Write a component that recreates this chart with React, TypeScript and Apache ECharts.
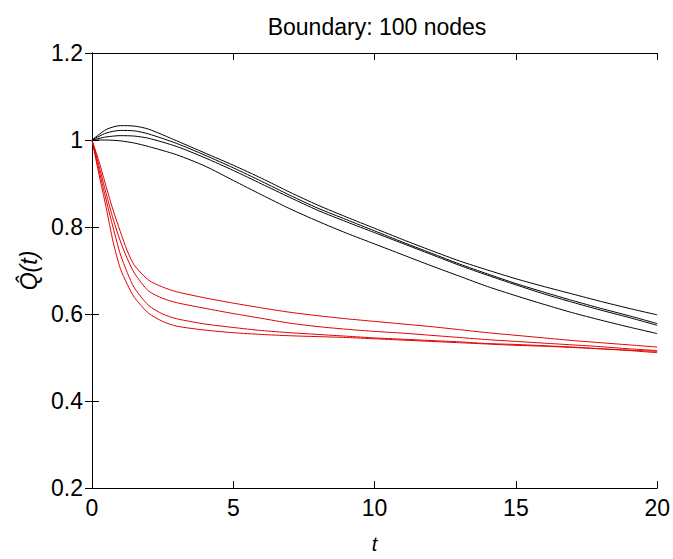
import React, { useEffect, useRef } from "react";
import * as echarts from "echarts";

const TITLE = "Boundary: 100 nodes";
const X_NAME = "t";
const Y_NAME = "Q\u0302(t)";
const X_TICKS = { min: 0, max: 20, interval: 5 };
const Y_TICKS = { min: 0.2, max: 1.2, interval: 0.2 };

const T_BLACK = [0, 0.5, 1, 1.5, 2, 3, 4, 5, 6, 7, 8, 9, 10, 11, 12, 13, 14, 15, 16, 17, 18, 19, 20];
const BLACK_A = [1.0, 1.024, 1.033, 1.032, 1.025, 0.998, 0.97, 0.942, 0.912, 0.88, 0.85, 0.823, 0.797, 0.771, 0.746, 0.722, 0.701, 0.681, 0.663, 0.646, 0.629, 0.613, 0.598];
const BLACK_B = [1.0, 1.016, 1.022, 1.021, 1.014, 0.992, 0.965, 0.936, 0.905, 0.873, 0.843, 0.817, 0.791, 0.765, 0.74, 0.715, 0.692, 0.67, 0.65, 0.631, 0.613, 0.596, 0.578];
const BLACK_C = [1.0, 1.007, 1.01, 1.009, 1.004, 0.985, 0.959, 0.93, 0.899, 0.868, 0.838, 0.812, 0.787, 0.762, 0.737, 0.712, 0.689, 0.667, 0.646, 0.627, 0.609, 0.592, 0.574];
const BLACK_D = [1.0, 1.0, 0.998, 0.993, 0.985, 0.966, 0.94, 0.907, 0.874, 0.842, 0.813, 0.786, 0.761, 0.736, 0.711, 0.687, 0.663, 0.642, 0.622, 0.603, 0.586, 0.57, 0.555];

const T_RED = [0, 0.25, 0.5, 0.75, 1, 1.25, 1.5, 2, 2.5, 3, 4, 5, 6, 7, 8, 9, 10, 11, 12, 13, 14, 15, 16, 17, 18, 19, 20];
const RED_1 = [1.0, 0.95, 0.893, 0.838, 0.79, 0.745, 0.712, 0.678, 0.662, 0.651, 0.637, 0.625, 0.614, 0.604, 0.596, 0.589, 0.583, 0.577, 0.571, 0.564, 0.557, 0.551, 0.545, 0.539, 0.534, 0.529, 0.524];
const RED_2 = [1.0, 0.94, 0.877, 0.818, 0.768, 0.727, 0.694, 0.653, 0.636, 0.626, 0.613, 0.601, 0.59, 0.579, 0.571, 0.565, 0.56, 0.556, 0.551, 0.546, 0.541, 0.537, 0.533, 0.529, 0.525, 0.52, 0.516];
const RED_3 = [1.0, 0.93, 0.862, 0.798, 0.738, 0.695, 0.66, 0.62, 0.6, 0.589, 0.577, 0.569, 0.562, 0.557, 0.553, 0.549, 0.545, 0.542, 0.539, 0.536, 0.532, 0.53, 0.527, 0.524, 0.52, 0.516, 0.511];
const RED_4 = [1.0, 0.92, 0.845, 0.765, 0.705, 0.668, 0.638, 0.602, 0.583, 0.572, 0.563, 0.557, 0.553, 0.55, 0.548, 0.546, 0.543, 0.54, 0.537, 0.534, 0.531, 0.528, 0.526, 0.523, 0.52, 0.517, 0.514];

const BLACK_SERIES = [BLACK_A, BLACK_B, BLACK_C, BLACK_D];
const RED_SERIES = [RED_1, RED_2, RED_3, RED_4];

const FONT = "'Liberation Sans', Arial, sans-serif";

export default function App() {
  const ref = useRef<HTMLDivElement>(null);
  useEffect(() => {
    document.body.style.margin = "0";
    if (!ref.current) return;
    const chart = echarts.init(ref.current, null, { renderer: "svg" });
    const mk = (ts: number[], vs: number[], color: string) => ({
      type: "line",
      data: ts.map((t, i) => [t, vs[i]]),
      showSymbol: false,
      symbol: "none",
      smooth: 0.25,
      lineStyle: { color, width: 1 },
      silent: true,
    });
    const axisCommon = {
      axisLine: { show: true, lineStyle: { color: "#000", width: 1 } },
      axisTick: { show: true, inside: true, length: 7, lineStyle: { color: "#000" } },
      splitLine: { show: false },
    };
    chart.setOption({
      animation: false,
      backgroundColor: "#fff",
      title: {
        text: TITLE,
        left: 372,
        top: 10,
        textAlign: "center",
        textStyle: { fontFamily: FONT, fontSize: 23, fontWeight: "normal", color: "#000" },
      },
      grid: { left: 92, right: 11, top: 53, bottom: 59, show: false },
      xAxis: [
        {
          type: "value",
          ...X_TICKS,
          position: "bottom",
          ...axisCommon,
          axisLabel: { show: true, margin: 8, fontFamily: FONT, fontSize: 23, color: "#000" },
          name: X_NAME,
          nameLocation: "middle",
          nameGap: 46,
          nameTextStyle: { fontFamily: FONT, fontSize: 20, fontStyle: "italic", color: "#000" },
        },
        {
          type: "value",
          ...X_TICKS,
          position: "top",
          ...axisCommon,
          axisLabel: { show: false },
        },
      ],
      yAxis: [
        {
          type: "value",
          ...Y_TICKS,
          position: "left",
          ...axisCommon,
          axisLabel: { show: true, margin: 9, fontFamily: FONT, fontSize: 23, color: "#000" },
          name: Y_NAME,
          nameLocation: "middle",
          nameGap: 48,
          nameRotate: 90,
          nameTextStyle: { fontFamily: FONT, fontSize: 23, fontStyle: "italic", color: "#000" },
        },
        {
          type: "value",
          ...Y_TICKS,
          position: "right",
          ...axisCommon,
          axisLabel: { show: false },
        },
      ],
      series: [
        ...RED_SERIES.map((v) => mk(T_RED, v, "#e00000")),
        ...BLACK_SERIES.map((v) => mk(T_BLACK, v, "#000000")),
      ],
    });
    return () => chart.dispose();
  }, []);
  return (
    <div
      ref={ref}
      style={{ position: "absolute", left: 0, top: 0, width: 673, height: 559 }}
    />
  );
}
